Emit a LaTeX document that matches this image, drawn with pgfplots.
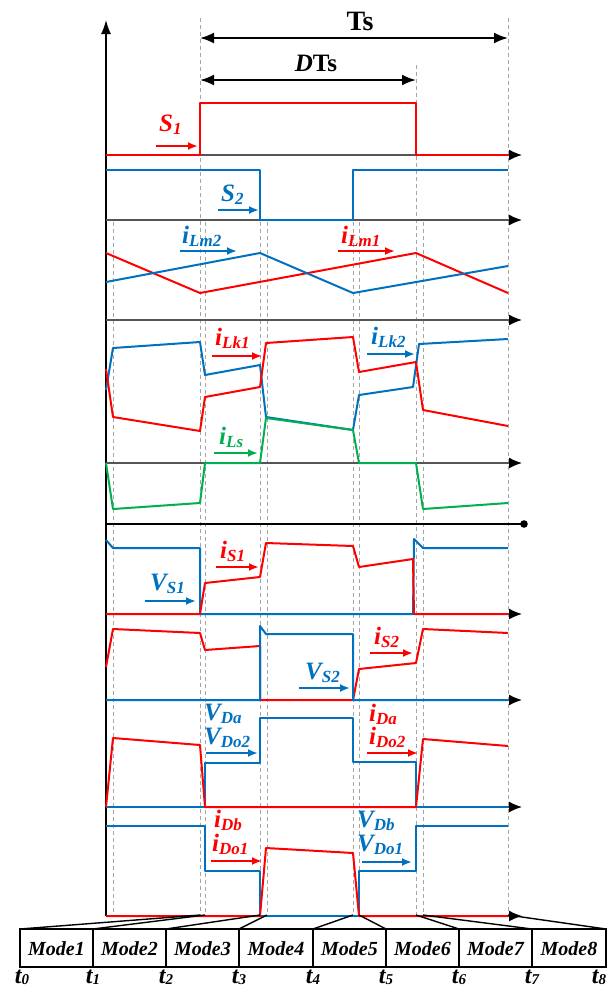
\documentclass[border=0pt]{standalone}
\usepackage{pgfplots}
\pgfplotsset{compat=1.18}
\usepackage{fontspec}
\setmainfont{Liberation Serif}
\usetikzlibrary{arrows.meta}

\definecolor{sred}{RGB}{255,0,0}
\definecolor{sblue}{RGB}{0,112,192}
\definecolor{sgreen}{RGB}{0,176,80}
\definecolor{axgray}{RGB}{85,85,85}
\definecolor{dashgray}{RGB}{165,165,165}

% signal name with a subscript, bold italic
\newcommand{\sig}[2]{{\fontsize{25}{25}\selectfont\bfseries\itshape #1\raisebox{-3pt}{\fontsize{17}{17}\selectfont #2}}}
\newcommand{\sigV}[2]{{\fontsize{25}{25}\selectfont\bfseries\itshape #1\raisebox{-3pt}{\fontsize{17}{17}\selectfont #2}}}
\newcommand{\tlab}[1]{{\fontsize{24}{24}\selectfont\bfseries\itshape t\raisebox{-1pt}{\fontsize{15}{15}\selectfont #1}}}
\newcommand{\mode}[1]{{\fontsize{20}{20}\selectfont\bfseries\itshape Mode#1}}

\tikzset{
  wave/.style={line width=2pt, line join=round, mark=none},
  base/.style={axgray, line width=1.5pt, -{Latex[length=13pt,width=11pt,color=black]}},
  tip/.style={line width=2pt, -{Latex[length=10pt,width=8pt]}},
  guide/.style={dashgray, line width=0.8pt, dash pattern=on 4pt off 3pt},
}

\begin{document}
\begin{tikzpicture}
\begin{axis}[
  name=ax,
  width=611pt, height=989pt, scale only axis,
  xmin=0, xmax=611, ymin=0, ymax=989, y dir=reverse,
  hide axis, clip=false,
]
% instants of the switching period
\draw[guide] (113,222) -- (113,916);
\draw[guide] (200,18) -- (200,916);
\draw[guide] (205,222) -- (205,916);
\draw[guide] (260,222) -- (260,916);
\draw[guide] (267,222) -- (267,916);
\draw[guide] (353,222) -- (353,916);
\draw[guide] (359,222) -- (359,916);
\draw[guide] (416,65) -- (416,916);
\draw[guide] (423,222) -- (423,916);
\draw[guide] (508,18) -- (508,916);

% time axes
\draw[black, line width=1.5pt, -{Latex[length=14pt,width=10pt]}] (106,916) -- (106,20);
\draw[base] (106,155) -- (522,155);
\draw[base] (106,220) -- (522,220);
\draw[base] (106,320) -- (522,320);
\draw[base] (106,463) -- (522,463);
\draw[black, line width=1.2pt] (106,524) -- (522,524);
\fill[black] (524,524) circle (3.8pt);
\draw[base] (106,614) -- (522,614);
\draw[base] (106,700) -- (522,700);
\draw[base] (106,807) -- (522,807);
\draw[base] (106,916) -- (522,916);

% period and duty cycle
\draw[black, line width=2pt, {Latex[length=14pt,width=11pt]}-{Latex[length=14pt,width=11pt]}] (200,38) -- (508,38);
\draw[black, line width=2pt, {Latex[length=14pt,width=11pt]}-{Latex[length=14pt,width=11pt]}] (200,80) -- (416,80);
\node[anchor=base] at (360,30) {\fontsize{28}{28}\selectfont\bfseries Ts};
\node[anchor=base] at (316,71) {\fontsize{25}{25}\selectfont\bfseries\textit{D}Ts};

% gate signals
\addplot[wave, sred] coordinates {(106,155) (200,155) (200,103) (416,103) (416,155) (508,155)};
\addplot[wave, sblue] coordinates {(106,170) (260,170) (260,220) (353,220) (353,170) (508,170)};

% magnetizing currents
\addplot[wave, sred] coordinates {(106,253) (200,293) (416,253) (508,293)};
\addplot[wave, sblue] coordinates {(106,282) (260,253) (353,293) (508,266)};

% leakage currents and iLs
\addplot[wave, sblue] coordinates {(106,390) (113,348) (200,342) (205,375) (260,365) (266,417) (353,430) (359,395) (413,387) (419,344) (508,339)};
\addplot[wave, sred] coordinates {(106,369) (113,417) (200,431) (205,397) (260,387) (266,343) (353,337) (359,372) (416,362) (423,410) (508,426)};
\addplot[wave, sgreen] coordinates {(106,463) (113,509) (200,503) (205,463) (260,463) (266,418) (353,430) (359,463) (416,463) (423,509) (508,503)};

% switch S1
\addplot[wave, sblue] coordinates {(106,540) (113,548) (200,548) (200,614) (413,614) (414,539) (423,548) (508,548)};
\addplot[wave, sred] coordinates {(106,614) (200,614) (205,583) (260,577) (266,543) (353,546) (359,567) (413,559) (414,614) (508,614)};

% switch S2
\addplot[wave, sred] coordinates {(106,667) (113,629) (200,633) (205,650) (260,646) (260,700) (353,700) (359,669) (416,663) (423,629) (508,633)};
\addplot[wave, sblue] coordinates {(106,700) (260,700) (260,626) (266,634) (353,634) (353,700) (508,700)};

% diodes Da / Do2
\addplot[wave, sblue] coordinates {(106,807) (205,807) (205,763) (260,763) (260,718) (353,718) (353,762) (416,762) (416,807) (508,807)};
\addplot[wave, sred] coordinates {(106,807) (113,738) (200,745) (205,807) (416,807) (423,739) (508,746)};

% diodes Db / Do1
\addplot[wave, sblue] coordinates {(106,826) (205,826) (205,871) (260,871) (260,916) (359,916) (359,871) (416,871) (416,826) (508,826)};
\addplot[wave, sred] coordinates {(106,916) (260,916) (266,848) (353,853) (359,916) (508,916)};

% signal names
\node[anchor=base west, text=sred, inner sep=0] at (159,131) {\sig{S}{1}};
\draw[tip, sred] (156,146) -- (198,146);
\node[anchor=base west, text=sblue, inner sep=0] at (221,201) {\sig{S}{2}};
\draw[tip, sblue] (218,210) -- (259,210);
\node[anchor=base west, text=sblue, inner sep=0] at (182,243) {\sig{i}{Lm2}};
\draw[tip, sblue] (180,251) -- (237,251);
\node[anchor=base west, text=sred, inner sep=0] at (341,243) {\sig{i}{Lm1}};
\draw[tip, sred] (338,251) -- (395,251);
\node[anchor=base west, text=sred, inner sep=0] at (215,345) {\sig{i}{Lk1}};
\draw[tip, sred] (212,356) -- (262,356);
\node[anchor=base west, text=sblue, inner sep=0] at (371,344) {\sig{i}{Lk2}};
\draw[tip, sblue] (367,354) -- (415,354);
\node[anchor=base west, text=sgreen, inner sep=0] at (219,444) {\sig{i}{Ls}};
\draw[tip, sgreen] (214,453) -- (258,453);
\node[anchor=base west, text=sred, inner sep=0] at (220,558) {\sig{i}{S1}};
\draw[tip, sred] (216,567) -- (259,567);
\node[anchor=base west, text=sblue, inner sep=0] at (150,590) {\sigV{V}{S1}};
\draw[tip, sblue] (145,601) -- (196,601);
\node[anchor=base west, text=sred, inner sep=0] at (374,644) {\sig{i}{S2}};
\draw[tip, sred] (370,653) -- (413,653);
\node[anchor=base west, text=sblue, inner sep=0] at (305,679) {\sigV{V}{S2}};
\draw[tip, sblue] (299,688) -- (350,688);
\node[anchor=base west, text=sblue, inner sep=0] at (204,720) {\sigV{V}{Da}};
\node[anchor=base west, text=sblue, inner sep=0] at (204,744) {\sigV{V}{Do2}};
\draw[tip, sblue] (206,753) -- (258,753);
\node[anchor=base west, text=sred, inner sep=0] at (369,721) {\sig{i}{Da}};
\node[anchor=base west, text=sred, inner sep=0] at (369,744) {\sig{i}{Do2}};
\draw[tip, sred] (367,753) -- (418,753);
\node[anchor=base west, text=sred, inner sep=0] at (214,827) {\sig{i}{Db}};
\node[anchor=base west, text=sred, inner sep=0] at (212,851) {\sig{i}{Do1}};
\draw[tip, sred] (211,861) -- (262,861);
\node[anchor=base west, text=sblue, inner sep=0] at (357,827) {\sigV{V}{Db}};
\node[anchor=base west, text=sblue, inner sep=0] at (357,851) {\sigV{V}{Do1}};
\draw[tip, sblue] (362,862) -- (412,862);

% operating modes
\draw[black, line width=1.4pt] (20,929) -- (200,915);
\draw[black, line width=1.4pt] (93,929) -- (205,915);
\draw[black, line width=1.4pt] (166,929) -- (260,915);
\draw[black, line width=1.4pt] (239,929) -- (267,915);
\draw[black, line width=1.4pt] (313,929) -- (353,915);
\draw[black, line width=1.4pt] (386,929) -- (359,915);
\draw[black, line width=1.4pt] (459,929) -- (416,915);
\draw[black, line width=1.4pt] (532,929) -- (423,915);
\draw[black, line width=1.4pt] (606,929) -- (508,915);
\draw[black, line width=1.5pt] (20,929) rectangle (606,967);
\draw[black, line width=1.5pt] (93,929) -- (93,967);
\draw[black, line width=1.5pt] (166,929) -- (166,967);
\draw[black, line width=1.5pt] (239,929) -- (239,967);
\draw[black, line width=1.5pt] (313,929) -- (313,967);
\draw[black, line width=1.5pt] (386,929) -- (386,967);
\draw[black, line width=1.5pt] (459,929) -- (459,967);
\draw[black, line width=1.5pt] (532,929) -- (532,967);
\node[anchor=base] at (56.5,955) {\mode{1}};
\node[anchor=base] at (129.5,955) {\mode{2}};
\node[anchor=base] at (202.5,955) {\mode{3}};
\node[anchor=base] at (276,955) {\mode{4}};
\node[anchor=base] at (349.5,955) {\mode{5}};
\node[anchor=base] at (422.5,955) {\mode{6}};
\node[anchor=base] at (495.5,955) {\mode{7}};
\node[anchor=base] at (569,955) {\mode{8}};
\node[anchor=base, inner sep=0] at (22,983) {\tlab{0}};
\node[anchor=base, inner sep=0] at (93,983) {\tlab{1}};
\node[anchor=base, inner sep=0] at (166,983) {\tlab{2}};
\node[anchor=base, inner sep=0] at (239,983) {\tlab{3}};
\node[anchor=base, inner sep=0] at (313,983) {\tlab{4}};
\node[anchor=base, inner sep=0] at (386,983) {\tlab{5}};
\node[anchor=base, inner sep=0] at (459,983) {\tlab{6}};
\node[anchor=base, inner sep=0] at (532,983) {\tlab{7}};
\node[anchor=base, inner sep=0] at (599,983) {\tlab{8}};
\end{axis}
\pgfresetboundingbox
\path (ax.south west) rectangle (ax.north east);
\end{tikzpicture}
\end{document}
